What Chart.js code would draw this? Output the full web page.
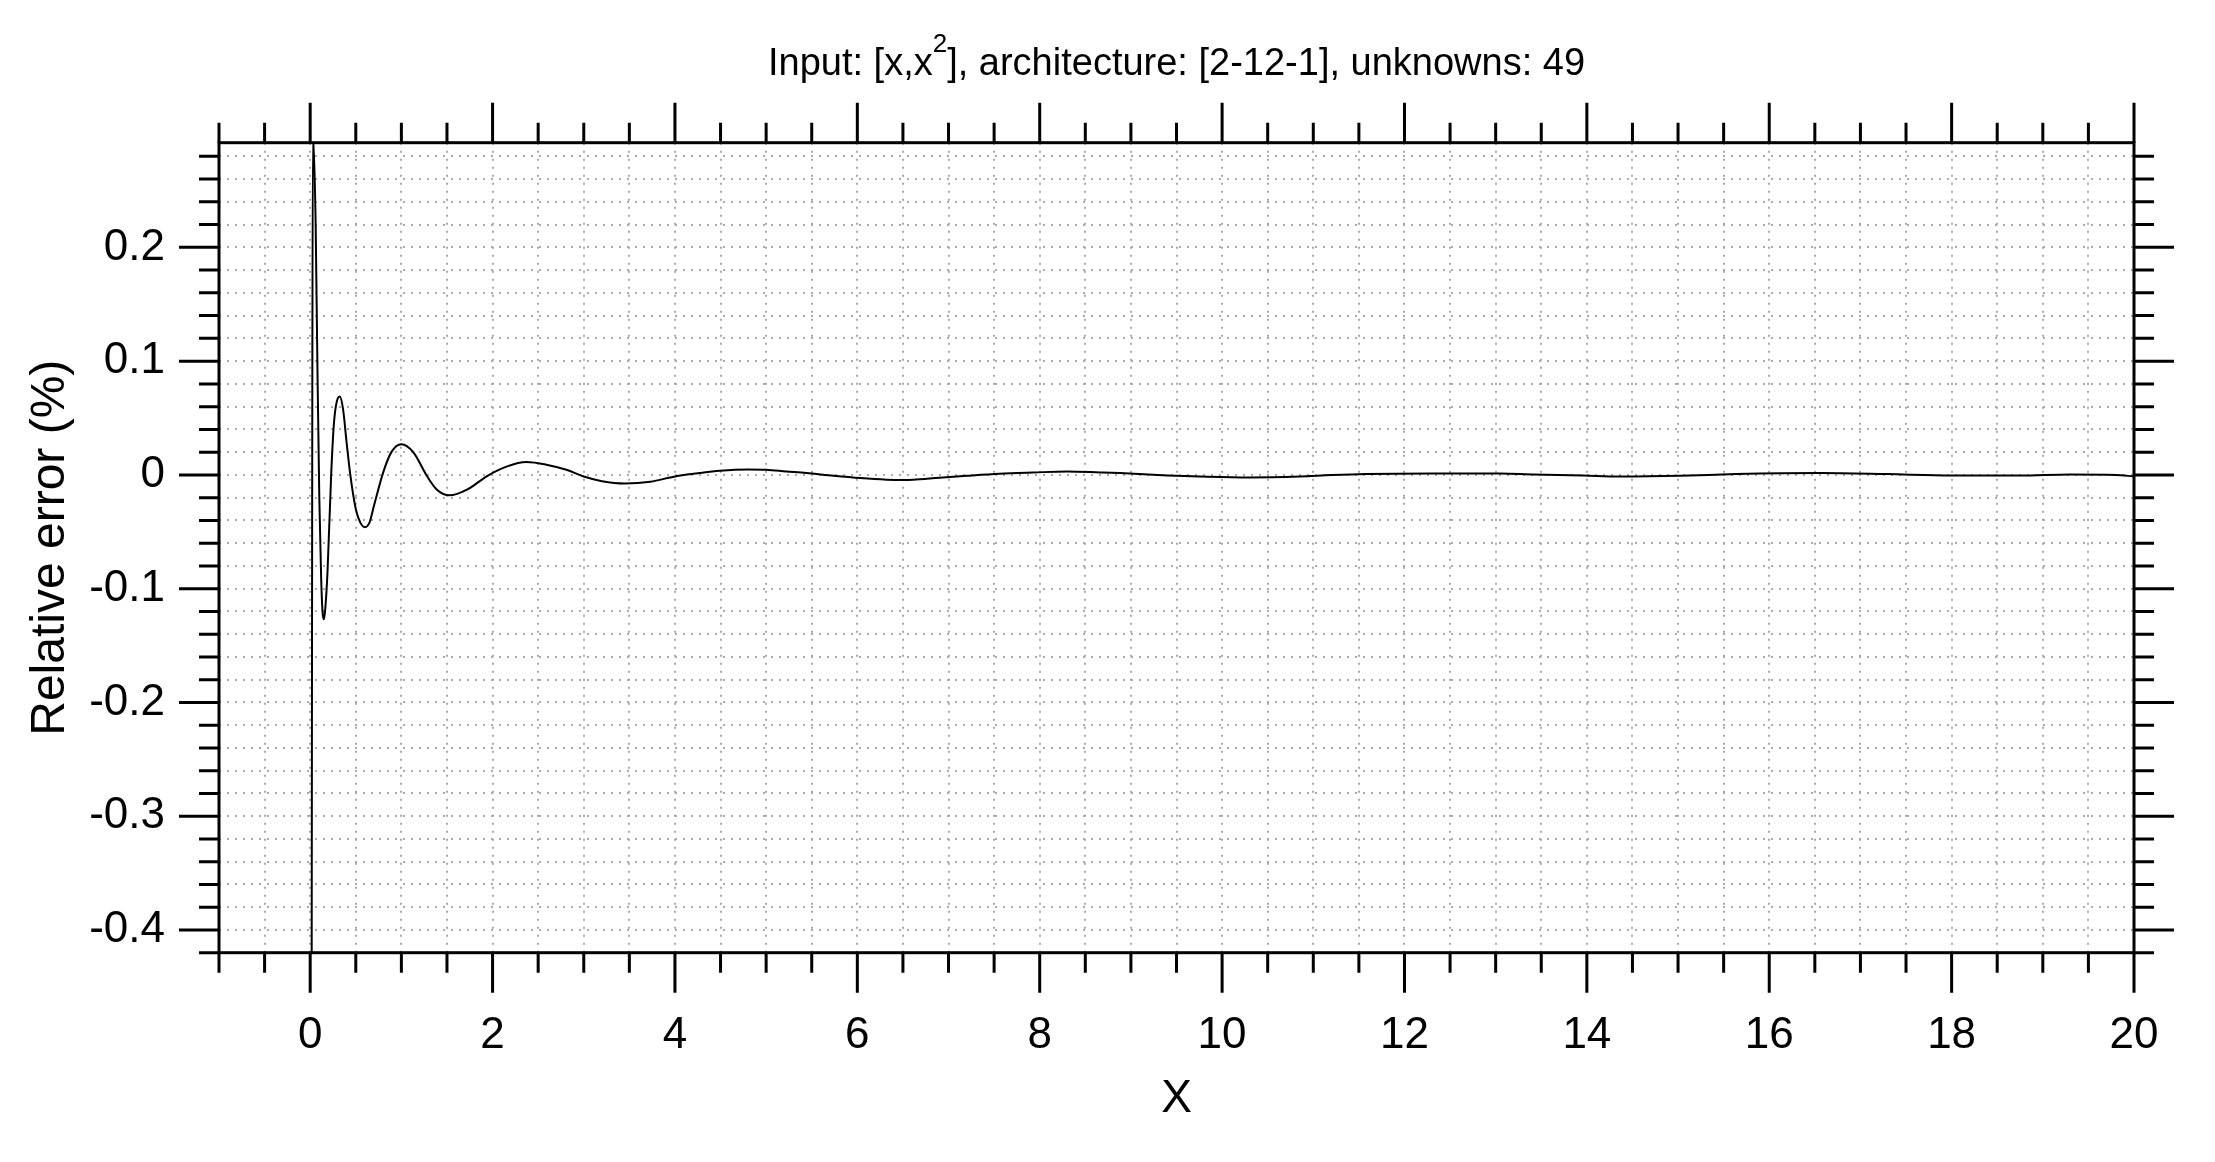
<!DOCTYPE html>
<html>
<head>
<meta charset="utf-8">
<script src="https://cdn.jsdelivr.net/npm/chart.js@4.4.1/dist/chart.umd.min.js"></script>
<style>
    html, body { margin: 0; padding: 0; background: #fff; }
    #wrap { position: relative; width: 2215px; height: 1162px; }
    #plot { position: absolute; left: 0; top: 0; }
    #title {
        position: absolute; left: 219px; width: 1915px; top: 43px;
        text-align: center; white-space: nowrap; color: #000;
        font-family: 'Liberation Sans', Arial, sans-serif; font-size: 38px; line-height: 38px;
    }
    #title sup { font-size: 26px; line-height: 0; vertical-align: 23px; }
</style>
</head>
<body>
<div id="wrap">
    <canvas id="plot" width="2215" height="1162"></canvas>
    <div id="title">Input: [x,x<sup>2</sup>], architecture: [2-12-1], unknowns: 49</div>
</div>
<script>
// --- data ---
const xValues = [0.01, 0.03, 0.06, 0.08, 0.10, 0.12, 0.135, 0.15, 0.165, 0.19, 0.23, 0.26, 0.29, 0.325,
    0.36, 0.40, 0.44, 0.50, 0.55, 0.60, 0.65, 0.70, 0.80, 0.89, 1.0, 1.13, 1.28, 1.39, 1.53, 1.72, 1.94,
    2.16, 2.37, 2.59, 2.81, 3.0, 3.2, 3.45, 3.73, 4.0, 4.27, 4.49, 4.8, 5.0, 5.22, 5.44, 5.74, 6.03, 6.32,
    6.5, 6.61, 6.9, 7.2, 7.56, 7.93, 8.3, 8.66, 8.88, 9.14, 9.4, 9.76, 10.3, 10.85, 11.2, 11.58, 12.3,
    13.05, 13.41, 13.96, 14.36, 15.02, 15.64, 16.56, 17.29, 18.0, 18.75, 19.3, 19.8, 20.0];
const errorValues = [-0.9, 0.30, 0.22, 0.09, -0.02, -0.09, -0.12, -0.127, -0.118, -0.085, 0.0, 0.045, 0.064, 0.069,
    0.058, 0.028, 0.0, -0.03, -0.042, -0.046, -0.042, -0.027, 0.002, 0.02, 0.027, 0.02, -0.001, -0.013, -0.018, -0.013, -0.001,
    0.0075, 0.0113, 0.009, 0.0045, -0.0014, -0.0055, -0.0075, -0.006, -0.0014, 0.0016, 0.0036, 0.0048, 0.0045, 0.003, 0.0016, -0.0008, -0.0028, -0.0042,
    -0.0045, -0.0043, -0.0025, -0.0008, 0.001, 0.0021, 0.003, 0.0022, 0.0016, 0.0005, -0.0005, -0.0014, -0.0022, -0.0014, -0.0002, 0.0007, 0.0012,
    0.0012, 0.0004, -0.0005, -0.0014, -0.0008, 0.0007, 0.0016, 0.0007, -0.0005, -0.0005, 0.0004, 0.0, -0.0014];

const xMajorTicks = [0, 2, 4, 6, 8, 10, 12, 14, 16, 18, 20];
const xTickLabels = ['0', '2', '4', '6', '8', '10', '12', '14', '16', '18', '20'];
const yMajorTicks = [-0.4, -0.3, -0.2, -0.1, 0, 0.1, 0.2];
const yTickLabels = ['-0.4', '-0.3', '-0.2', '-0.1', '0', '0.1', '0.2'];

const FONT = "'Liberation Sans', Arial, sans-serif";
const GRID = '#a9a9a9';

function majorIndex(v, majors) {
    return majors.findIndex(m => Math.abs(m - v) < 1e-9);
}

// ticks on all four sides (long = major, short = minor) plus the frame
const frameTicks = {
    id: 'frameTicks',
    afterDatasetsDraw(chart) {
        const { ctx, chartArea: a, scales: { x, y } } = chart;
        ctx.save();
        ctx.strokeStyle = '#000';
        ctx.lineWidth = 3;
        ctx.beginPath();
        x.ticks.forEach(t => {
            const px = x.getPixelForValue(t.value);
            const len = majorIndex(t.value, xMajorTicks) >= 0 ? 40 : 20;
            ctx.moveTo(px, a.bottom); ctx.lineTo(px, a.bottom + len);
            ctx.moveTo(px, a.top); ctx.lineTo(px, a.top - len);
        });
        y.ticks.forEach(t => {
            const py = y.getPixelForValue(t.value);
            const len = majorIndex(t.value, yMajorTicks) >= 0 ? 40 : 20;
            ctx.moveTo(a.left, py); ctx.lineTo(a.left - len, py);
            ctx.moveTo(a.right, py); ctx.lineTo(a.right + len, py);
        });
        ctx.stroke();
        ctx.strokeRect(a.left, a.top, a.right - a.left, a.bottom - a.top);
        ctx.restore();
    }
};

new Chart(document.getElementById('plot'), {
    type: 'line',
    data: {
        datasets: [{
            data: xValues.map((v, i) => ({ x: v, y: errorValues[i] })),
            borderColor: '#000',
            borderWidth: 2,
            pointRadius: 0,
            cubicInterpolationMode: 'monotone',
            fill: false
        }]
    },
    options: {
        responsive: false,
        animation: false,
        devicePixelRatio: 1,
        layout: { padding: { left: 0, right: 81, top: 142.7, bottom: 0 } },
        plugins: { legend: { display: false }, tooltip: { enabled: false }, title: { display: false } },
        scales: {
            x: {
                type: 'linear', min: -1, max: 20,
                afterFit: s => { s.height = 209.3; },
                ticks: {
                    stepSize: 0.5, autoSkip: false, maxRotation: 0, padding: 17,
                    color: '#000', font: { family: FONT, size: 44 },
                    callback: v => { const i = majorIndex(v, xMajorTicks); return i >= 0 ? xTickLabels[i] : ''; }
                },
                grid: { color: GRID, lineWidth: 2, tickLength: 40, tickColor: 'rgba(0,0,0,0)', borderDash: [2, 6] },
                border: { display: false, dash: [2, 6] },
                title: { display: true, text: 'X', color: '#000', font: { family: FONT, size: 46 }, padding: { top: 0, bottom: 35 } }
            },
            y: {
                type: 'linear', min: -0.42, max: 0.292,
                afterFit: s => { s.width = 219; },
                ticks: {
                    stepSize: 0.02, autoSkip: false, includeBounds: false, padding: 14,
                    color: '#000', font: { family: FONT, size: 44 },
                    callback: v => { const i = majorIndex(v, yMajorTicks); return i >= 0 ? yTickLabels[i] : ''; }
                },
                grid: { color: GRID, lineWidth: 2, tickLength: 40, tickColor: 'rgba(0,0,0,0)', borderDash: [2, 6] },
                border: { display: false, dash: [2, 6] },
                title: { display: true, text: 'Relative error (%)', color: '#000', font: { family: FONT, size: 48 }, padding: { top: 22, bottom: 0 } }
            }
        }
    },
    plugins: [frameTicks]
});
</script>
</body>
</html>
